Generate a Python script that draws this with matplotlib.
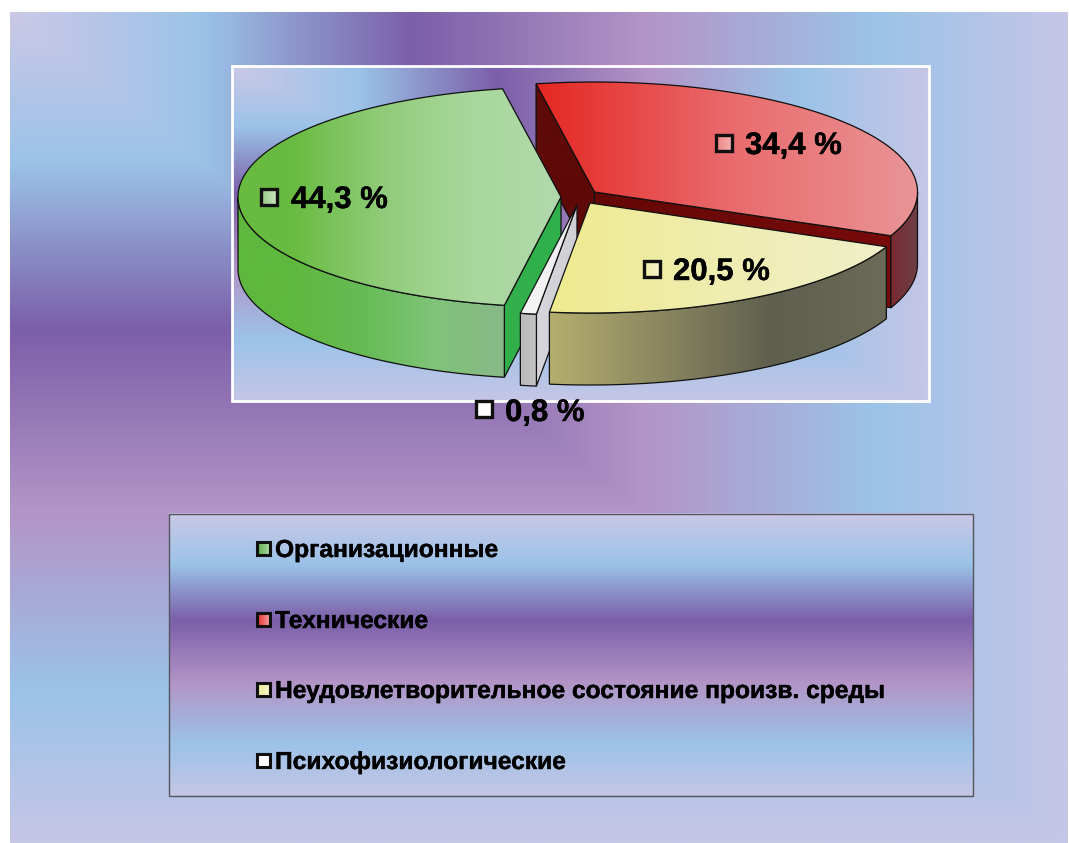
import matplotlib
matplotlib.use('Agg')
import matplotlib.pyplot as plt
import matplotlib.patheffects as pe
import numpy as np
from matplotlib.colors import LinearSegmentedColormap
from matplotlib.patches import Polygon, Rectangle

plt.rcParams['font.family'] = ['Liberation Sans', 'DejaVu Sans']

categories = ['Организационные', 'Технические',
              'Неудовлетворительное состояние произв. среды',
              'Психофизиологические']
shares = [44.3, 34.4, 20.5, 0.8]
value_labels = ['44,3 %', '34,4 %', '20,5 %', '0,8 %']

# pie layout, in pixels
A, B, DEPTH = 323, 110, 72
START = 259.9
centers = [(561, 197), (594.5, 192), (590, 203), (577, 205)]

stops = [(0, '#cbc8e6'), (0.18, '#9bc3e8'), (0.38, '#7b5fa9'), (0.6, '#b394c6'),
         (0.82, '#9bc3e8'), (1, '#c6c6e6')]
bg_cmap = LinearSegmentedColormap.from_list('bg', stops)
heavy = [pe.withStroke(linewidth=0.3, foreground='black')]

fig = plt.figure(figsize=(10.69, 8.43), dpi=100)
ax = fig.add_axes([0, 0, 1, 1])


def corner_gradient(x0, y0, x1, y1):
    # rectangular gradient running out of the top left corner
    u, v = np.meshgrid(np.linspace(0, 1, 600), np.linspace(0, 1, 600))
    ax.imshow(np.maximum(u, v), cmap=bg_cmap, extent=(x0, x1, y1, y0),
              aspect='auto', zorder=1, vmin=0, vmax=1)


def filled(pts, colors, xr=None, lw=0.9):
    # polygon with a horizontal gradient, constant outside the x range xr
    pts = np.array(pts)
    poly = Polygon(pts, closed=True, fc='none', ec='none', zorder=3)
    ax.add_patch(poly)
    bx0, bx1 = pts[:, 0].min() - 1, pts[:, 0].max() + 1
    if xr is None:
        xr = (bx0, bx1)
    cmap = LinearSegmentedColormap.from_list('f', colors)
    g = np.clip((np.linspace(bx0, bx1, 512) - xr[0]) / (xr[1] - xr[0]), 0, 1).reshape(1, -1)
    im = ax.imshow(g, cmap=cmap, extent=(bx0, bx1, pts[:, 1].max() + 1, pts[:, 1].min() - 1),
                   aspect='auto', zorder=3, vmin=0, vmax=1)
    im.set_clip_path(poly)
    ax.add_patch(Polygon(pts, closed=True, fc='none', ec='#101010', lw=lw, zorder=3))


def arc(c, t0, t1):
    t = np.radians(np.linspace(t0, t1, 120))
    return np.column_stack([c[0] + A * np.cos(t), c[1] - B * np.sin(t)])


def drop(pts):
    return np.array(pts) + [0, DEPTH]


def radial_wall(c, t, colors):
    p = arc(c, t, t)[:1]
    quad = [p[0], c, drop([c])[0], drop(p)[0]]
    filled(quad, colors)


def outer_wall(c, t0, t1, colors, xr=None):
    a = arc(c, t0, t1)
    filled(np.vstack([a, drop(a)[::-1]]), colors, xr)


def top_face(c, t0, t1, colors, xr=None):
    filled(np.vstack([[c], arc(c, t0, t1)]), colors, xr)


corner_gradient(10, 12, 1068, 843)
corner_gradient(232, 66, 929, 401)
ax.add_patch(Rectangle((232, 66), 697, 335, fc='none', ec='white', lw=2, zorder=2))

# slice angles, going clockwise from the start angle
ends = START - np.cumsum(shares) * 3.6
begins = np.r_[START, ends[:-1]]
green, red, yellow, white = zip(begins, ends, centers)

# red slice, back of the pie
radial_wall(red[2], red[0], ['#5e0a08', '#5e0a08'])
radial_wall(red[2], red[1], ['#640807', '#780a0a'])
outer_wall(red[2], red[1], 0, ['#7a2a30', '#6c4048'])
top_face(red[2], red[0], red[1], ['#e52824', '#e96a6c', '#ea9496'], (540, 915))

# green slice
radial_wall(green[2], green[0], ['#33b04c', '#2fb04a'])
outer_wall(green[2], 180, green[0], ['#5fb83e', '#66bb55', '#7fc478', '#88b888'], (290, 505))
top_face(green[2], green[0], green[1], ['#68bb40', '#8fcb78', '#a8d79c', '#b2d9ac'], (290, 560))

# thin white slice
radial_wall(white[2], white[0], ['#d6d6dc', '#cfcfd4'])
outer_wall(white[2], white[0], white[1], ['#b8b8b8', '#c4c4c4'])
top_face(white[2], white[0], white[1], ['#f7f7f7', '#ececf0'])

# yellow slice, in front
outer_wall(yellow[2], yellow[0], yellow[1], ['#b4ae6e', '#8a8660', '#5f5f4e', '#6a6a56'], (550, 885))
top_face(yellow[2], yellow[0], yellow[1], ['#eeea8e', '#efedb0', '#f0efc8'], (550, 885))

# value labels with their small keys
key_colors = [['#8fc87a', '#cfe6c8'], ['#f08080', '#f5b5b5'], ['#f0eda0', '#f5f4d0'], ['#ffffff', '#ffffff']]
key_xy = [(261, 188.5), (715.5, 134.5), (643.5, 260.5), (475.5, 400.5)]
text_xy = [(291, 208), (745, 154), (673, 280), (505, 421)]
for lab, kc, kxy, txy in zip(value_labels, key_colors, key_xy, text_xy):
    s = 16
    filled([kxy, (kxy[0] + s, kxy[1]), (kxy[0] + s, kxy[1] + s), (kxy[0], kxy[1] + s)], kc, lw=2.4)
    ax.text(txy[0], txy[1], lab, fontsize=22.4, fontweight='bold', color='black',
            va='baseline', ha='left', zorder=5, path_effects=heavy)

# legend box
lx0, ly0, lx1, ly1 = 168.5, 513.5, 972.5, 795.5
ax.imshow(np.linspace(0, 1, 512).reshape(-1, 1), cmap=bg_cmap, extent=(lx0, lx1, ly1, ly0),
          aspect='auto', zorder=1.5, vmin=0, vmax=1)
ax.add_patch(Rectangle((lx0, ly0), lx1 - lx0, ly1 - ly0, fc='none', ec='#55555f', lw=1, zorder=2))

legend_keys = [['#4fa83a', '#b8ddb0'], ['#e52824', '#f4a8a8'], ['#eeea8e', '#f5f4d0'], ['#ffffff', '#ffffff']]
baselines = [557, 628, 698, 769]
for name, kc, yb in zip(categories, legend_keys, baselines):
    s = 13
    kx, ky = 257, yb - 15
    filled([(kx, ky), (kx + s, ky), (kx + s, ky + s), (kx, ky + s)], kc, lw=2.2)
    ax.text(275, yb, name, fontsize=17.7, fontweight='bold', color='black',
            va='baseline', ha='left', zorder=5, path_effects=heavy)

ax.set_xlim(0, 1069)
ax.set_ylim(843, 0)
ax.axis('off')
fig.savefig('out.png', dpi=100, facecolor='white')
